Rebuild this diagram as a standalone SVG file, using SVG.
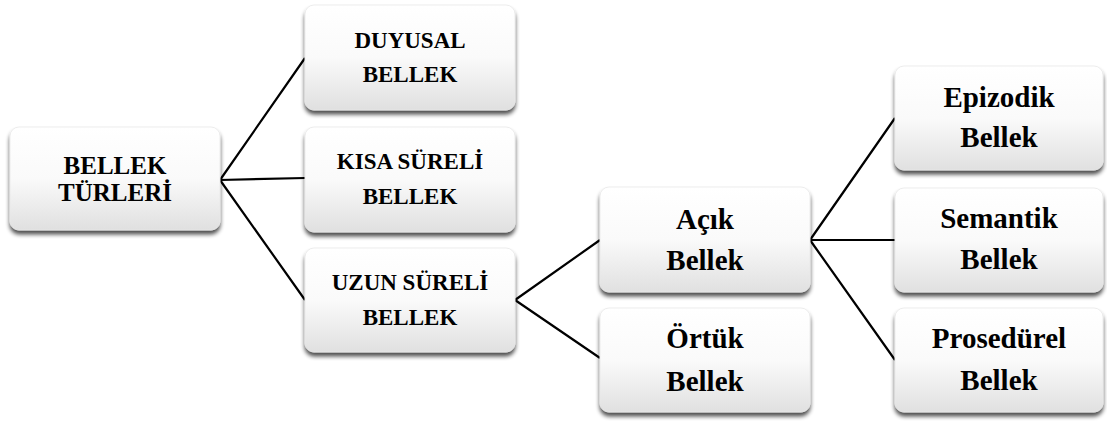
<svg xmlns="http://www.w3.org/2000/svg" width="1107" height="421" viewBox="0 0 1107 421">
<defs>
<linearGradient id="g" x1="0" y1="0" x2="0" y2="1">
<stop offset="0" stop-color="#ffffff"/>
<stop offset="0.5" stop-color="#fafafa"/>
<stop offset="1" stop-color="#e0e0e0"/>
</linearGradient>
<filter id="sh" x="-10%" y="-10%" width="120%" height="130%">
<feGaussianBlur in="SourceAlpha" stdDeviation="2"/>
<feOffset dx="0" dy="3.5" result="b"/>
<feComponentTransfer><feFuncA type="linear" slope="0.7"/></feComponentTransfer>
<feMerge><feMergeNode/><feMergeNode in="SourceGraphic"/></feMerge>
</filter>
</defs>
<style>
.box{fill:url(#g);stroke:#e8e8e8;stroke-width:0.8;filter:url(#sh)}
text{font-family:'Liberation Serif','DejaVu Serif',serif;font-weight:bold;fill:#000;text-anchor:middle}
.c{font-size:23px}
.r{font-size:25px}
.l{font-size:29px}
.ln{stroke:#000;stroke-width:2.2;fill:none}
</style>
<rect width="1107" height="421" fill="#ffffff"/>
<g id="connectors">
<path class="ln" d="M220,180 L305,58 M220,180 L305,178 M220,180 L305,300"/>
<path class="ln" d="M515,300 L600,240 M515,300 L600,358"/>
<path class="ln" d="M810,240 L895,118 M810,240 L895,240 M810,240 L895,360"/>
</g>
<g id="bellek-turleri">
<rect class="box" x="10" y="127" width="210" height="103" rx="9"/>
<text class="r" x="115" y="174">BELLEK</text>
<text class="r" x="115" y="201">TÜRLERİ</text>
</g>
<g id="duyusal">
<rect class="box" x="305" y="5" width="210" height="105" rx="9"/>
<text class="c" x="410" y="48">DUYUSAL</text>
<text class="c" x="410" y="82">BELLEK</text>
</g>
<g id="kisa">
<rect class="box" x="305" y="127" width="210" height="105" rx="9"/>
<text class="c" x="410" y="169">KISA SÜRELİ</text>
<text class="c" x="410" y="204">BELLEK</text>
</g>
<g id="uzun">
<rect class="box" x="305" y="248" width="210" height="104" rx="9"/>
<text class="c" x="410" y="290">UZUN SÜRELİ</text>
<text class="c" x="410" y="325">BELLEK</text>
</g>
<g id="acik">
<rect class="box" x="600" y="187" width="210" height="105" rx="9"/>
<text class="l" x="705" y="229">Açık</text>
<text class="l" x="705" y="270">Bellek</text>
</g>
<g id="ortuk">
<rect class="box" x="600" y="308" width="210" height="104" rx="9"/>
<text class="l" x="705" y="348">Örtük</text>
<text class="l" x="705" y="391">Bellek</text>
</g>
<g id="epizodik">
<rect class="box" x="895" y="66" width="208" height="104" rx="9"/>
<text class="l" x="999" y="107">Epizodik</text>
<text class="l" x="999" y="147">Bellek</text>
</g>
<g id="semantik">
<rect class="box" x="895" y="188" width="208" height="104" rx="9"/>
<text class="l" x="999" y="228">Semantik</text>
<text class="l" x="999" y="269">Bellek</text>
</g>
<g id="prosedurel">
<rect class="box" x="895" y="308" width="208" height="104" rx="9"/>
<text class="l" x="999" y="348">Prosedürel</text>
<text class="l" x="999" y="390">Bellek</text>
</g>
</svg>
